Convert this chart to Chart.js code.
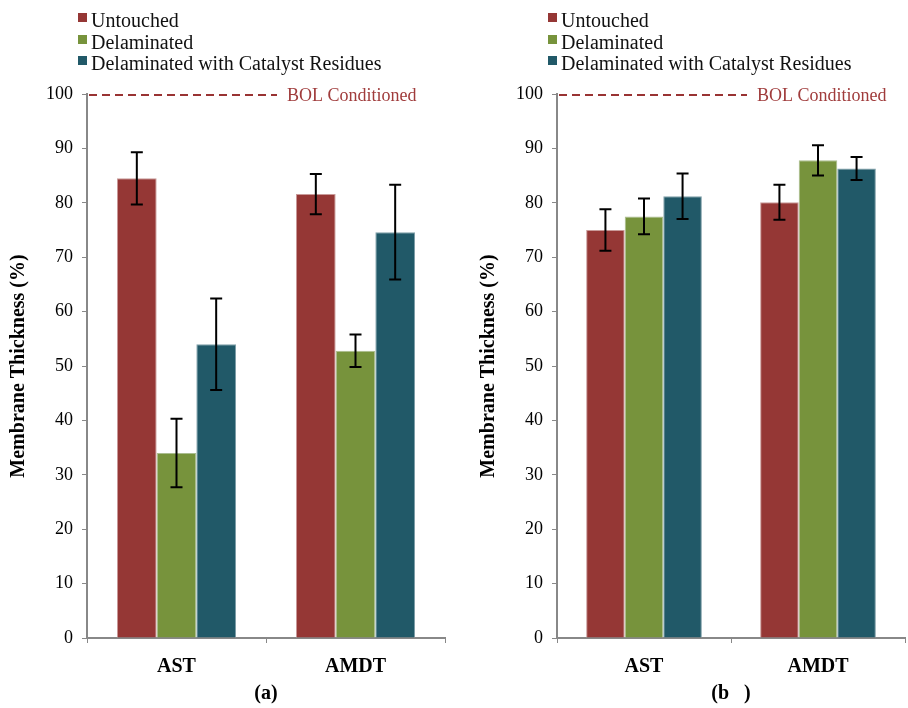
<!DOCTYPE html>
<html>
<head>
<meta charset="utf-8">
<script src="https://cdn.jsdelivr.net/npm/chart.js@4/dist/chart.umd.min.js"></script>
<style>
  body { margin: 0; background: #fff; }
  #wrap { position: relative; width: 908px; height: 708px; }
  .panel { position: absolute; top: 0; height: 708px; }
  .legend { position: absolute; top: 10px; left: 78px; font: 20px "Liberation Serif", serif; color: #111; }
  .legend div { height: 21.5px; line-height: 21.5px; white-space: nowrap; }
  .legend span { display: inline-block; width: 9px; height: 9px; margin-right: 4px; vertical-align: 5px; }
</style>
</head>
<body>
<div id="wrap">
  <div class="panel" style="left:0;width:454px"><canvas id="chartA" width="454" height="708"></canvas><div class="legend" id="legendA"></div></div>
  <div class="panel" style="left:470px;width:438px"><canvas id="chartB" width="438" height="708"></canvas><div class="legend" id="legendB"></div></div>
</div>
<script>
// ------------------ Data ------------------
const categories = ['AST', 'AMDT'];
const seriesNames = ['Untouched', 'Delaminated', 'Delaminated with Catalyst Residues'];
const seriesColors = ['#953735', '#77933C', '#215968'];
const seriesBorders = ['#c99a99', '#aabd8f', '#7f9fa8'];

// panel (a)
const untouchedA = [84.5, 81.6];
const delaminatedA = [34.0, 52.8];
const residuesA = [54.0, 74.6];
const untouchedErrA = [4.8, 3.7];
const delaminatedErrA = [6.3, 3.0];
const residuesErrA = [8.4, 8.7];

// panel (b)
const untouchedB = [75.0, 80.1];
const delaminatedB = [77.5, 87.8];
const residuesB = [81.2, 86.3];
const untouchedErrB = [3.8, 3.2];
const delaminatedErrB = [3.3, 2.8];
const residuesErrB = [4.2, 2.1];

const yTicks = [0, 10, 20, 30, 40, 50, 60, 70, 80, 90, 100];
const bolValue = 100;
const bolLabel = 'BOL Conditioned';

// ------------------ Plugins ------------------
const errorBars = {
    id: 'errorBars',
    afterDatasetsDraw(chart) {
        const ctx = chart.ctx;
        const y = chart.scales.y;
        ctx.save();
        ctx.strokeStyle = '#000';
        ctx.lineWidth = 2;
        chart.data.datasets.forEach((ds, i) => {
            chart.getDatasetMeta(i).data.forEach((bar, j) => {
                const v = ds.data[j], e = ds.errors[j];
                const top = y.getPixelForValue(v + e);
                const bot = y.getPixelForValue(v - e);
                ctx.beginPath();
                ctx.moveTo(bar.x, top); ctx.lineTo(bar.x, bot);
                ctx.moveTo(bar.x - 6, top); ctx.lineTo(bar.x + 6, top);
                ctx.moveTo(bar.x - 6, bot); ctx.lineTo(bar.x + 6, bot);
                ctx.stroke();
            });
        });
        ctx.restore();
    }
};

const bolLine = {
    id: 'bolLine',
    afterDraw(chart) {
        const ctx = chart.ctx;
        const area = chart.chartArea;
        const yPix = chart.scales.y.getPixelForValue(bolValue);
        ctx.save();
        ctx.strokeStyle = '#993333';
        ctx.lineWidth = 2;
        ctx.setLineDash([8, 5]);
        ctx.beginPath();
        ctx.moveTo(area.left + 2, yPix + 1);
        ctx.lineTo(area.left + 190, yPix + 1);
        ctx.stroke();
        ctx.setLineDash([]);
        ctx.fillStyle = '#a03c3c';
        ctx.font = '18px "Liberation Serif", serif';
        ctx.textBaseline = 'middle';
        ctx.fillText(bolLabel, area.left + 200, yPix + 2);
        ctx.restore();
    }
};

// ------------------ Chart builder ------------------
function makeChart(id, legendId, values, errors, subtitle, padRight) {
    document.getElementById(legendId).innerHTML = seriesNames.map((n, i) =>
        '<div><span style="background:' + seriesColors[i] + '"></span>' + n + '</div>').join('');

    new Chart(document.getElementById(id), {
        type: 'bar',
        data: {
            labels: categories,
            datasets: seriesNames.map((n, i) => ({
                label: n,
                data: values[i],
                errors: errors[i],
                backgroundColor: seriesColors[i],
                borderColor: seriesBorders[i],
                borderWidth: 1,
                categoryPercentage: 0.665,
                barPercentage: 1
            }))
        },
        options: {
            responsive: false,
            animation: false,
            layout: { padding: { top: 94, right: padRight, bottom: 0, left: 0 } },
            plugins: { legend: { display: false }, tooltip: { enabled: false } },
            scales: {
                x: {
                    grid: { drawOnChartArea: false, drawTicks: true, tickLength: 5, color: '#888', offset: true },
                    border: { color: '#888', width: 2 },
                    ticks: { color: '#000', padding: 12, font: { family: 'Liberation Serif', size: 20, weight: 'bold' } },
                    title: { display: true, text: subtitle, color: '#000', padding: { top: 0, bottom: 2 },
                        font: { family: 'Liberation Serif', size: 20, weight: 'bold' } },
                    afterFit(s) { s.height = 70; }
                },
                y: {
                    min: 0, max: 100,
                    afterBuildTicks(s) { s.ticks = yTicks.map(v => ({ value: v })); },
                    grid: { drawOnChartArea: false, drawTicks: true, tickLength: 5, color: '#888' },
                    border: { color: '#888', width: 2 },
                    ticks: { color: '#000', padding: 9, font: { family: 'Liberation Serif', size: 18 } },
                    title: { display: true, text: 'Membrane Thickness (%)', color: '#000', padding: { top: 7, bottom: 0 },
                        font: { family: 'Liberation Serif', size: 20, weight: 'bold' } },
                    afterFit(s) { s.width = 87; }
                }
            }
        },
        plugins: [errorBars, bolLine]
    });
}

makeChart('chartA', 'legendA', [untouchedA, delaminatedA, residuesA],
    [untouchedErrA, delaminatedErrA, residuesErrA], '(a)', 9);
makeChart('chartB', 'legendB', [untouchedB, delaminatedB, residuesB],
    [untouchedErrB, delaminatedErrB, residuesErrB], '(b   )', 3);
</script>
</body>
</html>
